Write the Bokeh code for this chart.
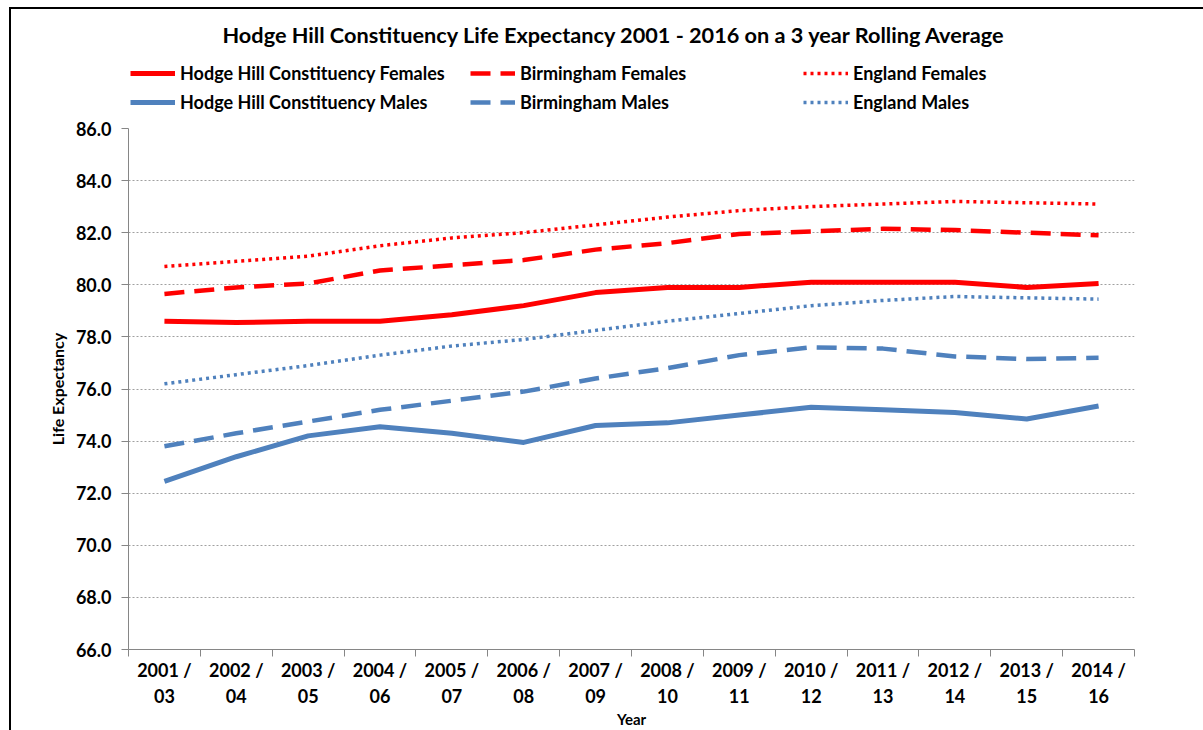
from bokeh.plotting import figure
from bokeh.layouts import column
from bokeh.models import FixedTicker, Legend, LegendItem, Range1d, NumeralTickFormatter
from bokeh.embed import file_html
from bokeh.resources import INLINE

periods = ["2001 /\n03", "2002 /\n04", "2003 /\n05", "2004 /\n06", "2005 /\n07",
           "2006 /\n08", "2007 /\n09", "2008 /\n10", "2009 /\n11", "2010 /\n12",
           "2011 /\n13", "2012 /\n14", "2013 /\n15", "2014 /\n16"]

hodge_hill_females = [78.6, 78.55, 78.6, 78.6, 78.85, 79.2, 79.7, 79.9, 79.9, 80.1, 80.1, 80.1, 79.9, 80.05]
birmingham_females = [79.65, 79.9, 80.05, 80.55, 80.75, 80.95, 81.35, 81.6, 81.95, 82.05, 82.15, 82.1, 82.0, 81.9]
england_females = [80.7, 80.9, 81.1, 81.5, 81.8, 82.0, 82.3, 82.6, 82.85, 83.0, 83.1, 83.2, 83.15, 83.1]
hodge_hill_males = [72.45, 73.4, 74.2, 74.55, 74.3, 73.95, 74.6, 74.7, 75.0, 75.3, 75.2, 75.1, 74.85, 75.35]
birmingham_males = [73.8, 74.3, 74.75, 75.2, 75.55, 75.9, 76.4, 76.8, 77.3, 77.6, 77.55, 77.25, 77.15, 77.2]
england_males = [76.2, 76.55, 76.9, 77.3, 77.65, 77.9, 78.25, 78.6, 78.9, 79.2, 79.4, 79.55, 79.5, 79.45]

series_labels = ["Hodge Hill Constituency Females", "Birmingham Females", "England Females",
                 "Hodge Hill Constituency Males", "Birmingham Males", "England Males"]
y_ticks = [66, 68, 70, 72, 74, 76, 78, 80, 82, 84, 86]

FONT = "Lato"
RED = "#FF0000"
BLUE = "#4F81BD"
AXIS_GRAY = "#868686"

x = list(range(len(periods)))
series = [hodge_hill_females, birmingham_females, england_females,
          hodge_hill_males, birmingham_males, england_males]
styles = [dict(line_color=RED, line_width=5, line_join="round"),
          dict(line_color=RED, line_width=4.5, line_dash="20 10"),
          dict(line_color=RED, line_width=3.5, line_dash="3 4"),
          dict(line_color=BLUE, line_width=5, line_join="round"),
          dict(line_color=BLUE, line_width=4.5, line_dash="20 10"),
          dict(line_color=BLUE, line_width=3.5, line_dash="3 4")]

# ---------- header: title + legend (frame aligned with the chart's frame) ----------
hp = figure(title="Hodge Hill Constituency Life Expectancy 2001 - 2016 on a 3 year Rolling Average",
            frame_width=1006, frame_height=69,
            x_range=Range1d(0, 1), y_range=Range1d(0, 1),
            x_axis_location=None, y_axis_location=None,
            output_backend="svg", toolbar_location=None,
            min_border_left=117, min_border_right=69, min_border_bottom=0, min_border_top=0)
hp.title.align = "left"
hp.title.offset = 94
hp.title.text_font = FONT
hp.title.text_font_size = "21.7px"
hp.title.text_font_style = "bold"
hp.title.text_color = "black"
hp.title.standoff = 0
hp.grid.visible = False
hp.outline_line_color = None

# legend sample renderers: the real series, lying outside the header's visible range
hr = [hp.line(x, s, **st) for s, st in zip(series, styles)]


def make_legend(idx, loc):
    lg = Legend(items=[LegendItem(label=series_labels[i], renderers=[hr[i]]) for i in idx],
                location=loc, orientation="vertical",
                label_text_font=FONT, label_text_font_size="18px",
                label_text_font_style="bold", label_text_color="black",
                glyph_width=45, glyph_height=20, label_height=20,
                spacing=7, padding=0, margin=0, label_standoff=5,
                border_line_color=None, background_fill_alpha=0)
    hp.add_layout(lg, "center")


make_legend([0, 3], (2, 3))
make_legend([1, 4], (342, 3))
make_legend([2, 5], (675, 3))

# ---------- main chart ----------
p = figure(frame_width=1006, frame_height=521,
           x_range=Range1d(-0.5, len(periods) - 0.5), y_range=Range1d(66, 86),
           output_backend="svg", toolbar_location=None,
           min_border_left=117, min_border_top=12, min_border_bottom=60, min_border_right=69)

for s, st in zip(series, styles):
    p.line(x, s, **st)

xa = p.xaxis[0]
xa.ticker = FixedTicker(ticks=x, minor_ticks=[i - 0.5 for i in range(len(periods) + 1)])
xa.major_label_overrides = {i: lab for i, lab in enumerate(periods)}
xa.major_tick_line_color = None
xa.minor_tick_line_color = AXIS_GRAY
xa.minor_tick_in = 0
xa.minor_tick_out = 7
xa.axis_line_color = AXIS_GRAY
xa.major_label_text_font = FONT
xa.major_label_text_font_size = "18px"
xa.major_label_text_font_style = "bold"
xa.major_label_text_color = "black"
xa.major_label_standoff = 2
xa.axis_label = "Year"
xa.axis_label_text_font = FONT
xa.axis_label_text_font_size = "15px"
xa.axis_label_text_font_style = "bold"
xa.axis_label_text_color = "black"
xa.axis_label_standoff = 0

ya = p.yaxis[0]
ya.ticker = FixedTicker(ticks=y_ticks)
ya.formatter = NumeralTickFormatter(format="0.0")
ya.minor_tick_line_color = None
ya.major_tick_line_color = AXIS_GRAY
ya.major_tick_in = 0
ya.major_tick_out = 7
ya.axis_line_color = AXIS_GRAY
ya.major_label_text_font = FONT
ya.major_label_text_font_size = "18px"
ya.major_label_text_font_style = "bold"
ya.major_label_text_color = "black"
ya.major_label_standoff = 10
ya.axis_label = "Life Expectancy"
ya.axis_label_text_font = FONT
ya.axis_label_text_font_size = "16px"
ya.axis_label_text_font_style = "bold"
ya.axis_label_text_color = "black"
ya.axis_label_standoff = 6

p.xgrid.visible = False
p.ygrid.grid_line_color = "#A0A0A0"
p.ygrid.grid_line_dash = "2 2"
p.ygrid.grid_line_width = 1
p.outline_line_color = None

layout = column(hp, p, spacing=0)
layout.styles = {"margin-left": "9px", "margin-top": "7px", "padding-top": "10px",
                 "border-left": "2px solid black", "border-top": "2px solid black"}

open("out.html", "w").write(file_html(layout, INLINE))
